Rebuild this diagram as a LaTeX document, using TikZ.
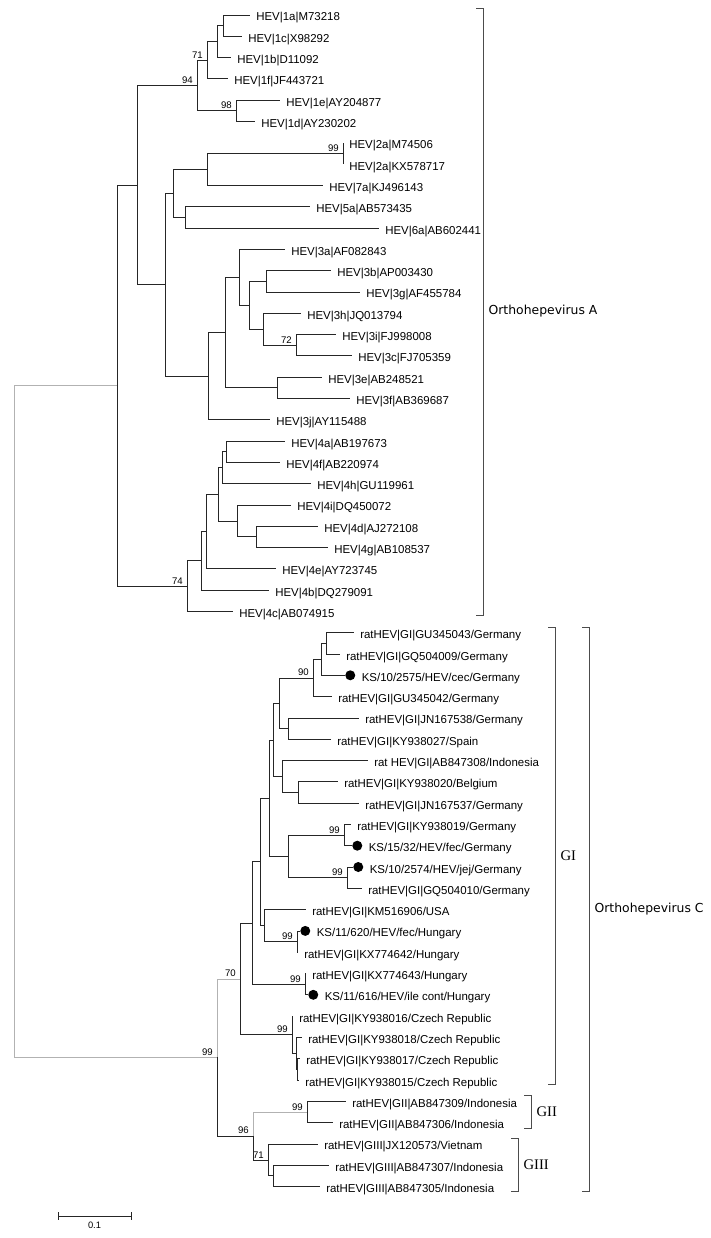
\documentclass[tikz,border=0pt]{standalone}
\usepackage{fontspec}
\setmainfont{Liberation Sans}
\newfontfamily\cladefont{DejaVu Sans}
\newfontfamily\groupfont{Liberation Serif}
\usetikzlibrary{positioning}

\tikzset{
  lab/.style={anchor=base west, inner sep=0pt, xshift=4.5pt, yshift=-4.5pt,
    font=\fontsize{8.6}{10}\selectfont},
  bs/.style={anchor=south east, inner sep=0pt, xshift=-3pt, yshift=1.2pt,
    font=\fontsize{7.2}{8}\selectfont},
  br/.style={black!85, line width=0.6pt},
  brl/.style={gray!60, line width=0.6pt},
  brk/.style={black!70, line width=0.6pt},
  kdot/.style={circle, fill=black, inner sep=0pt, minimum size=7.5pt},
  clade/.style={anchor=west, inner sep=0pt, xshift=4pt,
    font=\cladefont\fontsize{9.3}{11}\selectfont},
  grp/.style={anchor=west, inner sep=0pt, xshift=4pt,
    font=\groupfont\fontsize{11}{13}\selectfont}
}

\begin{document}
\begin{tikzpicture}[x=0.75pt, y=-0.75pt]
    \useasboundingbox (0,0) rectangle (710,1238);

    % Orthohepevirus A leaves
    \path (250,15.0) coordinate (a1a) node [lab] {HEV|1a|M73218};
    \path (242,36.3) coordinate (a1c) node [lab] {HEV|1c|X98292};
    \path (231,57.6) coordinate (a1b) node [lab] {HEV|1b|D11092};
    \path (228,78.9) coordinate (a1f) node [lab] {HEV|1f|JF443721};
    \path (280,100.2) coordinate (a1e) node [lab] {HEV|1e|AY204877};
    \path (255,121.5) coordinate (a1d) node [lab] {HEV|1d|AY230202};
    \path (343,142.8) coordinate (a2a) node [lab] {HEV|2a|M74506};
    \path (343,164.1) coordinate (a2b) node [lab] {HEV|2a|KX578717};
    \path (323,185.4) coordinate (a7a) node [lab] {HEV|7a|KJ496143};
    \path (310,206.7) coordinate (a5a) node [lab] {HEV|5a|AB573435};
    \path (379,228.0) coordinate (a6a) node [lab] {HEV|6a|AB602441};
    \path (285,249.3) coordinate (a3a) node [lab] {HEV|3a|AF082843};
    \path (331,270.6) coordinate (a3b) node [lab] {HEV|3b|AP003430};
    \path (360,291.9) coordinate (a3g) node [lab] {HEV|3g|AF455784};
    \path (301,313.2) coordinate (a3h) node [lab] {HEV|3h|JQ013794};
    \path (336,334.5) coordinate (a3i) node [lab] {HEV|3i|FJ998008};
    \path (352,355.8) coordinate (a3c) node [lab] {HEV|3c|FJ705359};
    \path (322,377.1) coordinate (a3e) node [lab] {HEV|3e|AB248521};
    \path (350,398.4) coordinate (a3f) node [lab] {HEV|3f|AB369687};
    \path (270,419.7) coordinate (a3j) node [lab] {HEV|3j|AY115488};
    \path (285,441.0) coordinate (a4a) node [lab] {HEV|4a|AB197673};
    \path (280,462.3) coordinate (a4f) node [lab] {HEV|4f|AB220974};
    \path (311,483.6) coordinate (a4h) node [lab] {HEV|4h|GU119961};
    \path (291,504.9) coordinate (a4i) node [lab] {HEV|4i|DQ450072};
    \path (318,526.2) coordinate (a4d) node [lab] {HEV|4d|AJ272108};
    \path (328,547.5) coordinate (a4g) node [lab] {HEV|4g|AB108537};
    \path (276,568.8) coordinate (a4e) node [lab] {HEV|4e|AY723745};
    \path (269,590.1) coordinate (a4b) node [lab] {HEV|4b|DQ279091};
    \path (233,611.4) coordinate (a4c) node [lab] {HEV|4c|AB074915};

    % Orthohepevirus C leaves
    \path (354,632.7) coordinate (c43) node [lab] {ratHEV|GI|GU345043/Germany};
    \path (340,654.0) coordinate (c09) node [lab] {ratHEV|GI|GQ504009/Germany};
    \path (345,675.3) coordinate (k2575);
    \path (332,696.6) coordinate (c42) node [lab] {ratHEV|GI|GU345042/Germany};
    \path (359,717.9) coordinate (c38) node [lab] {ratHEV|GI|JN167538/Germany};
    \path (331,739.2) coordinate (c27) node [lab] {ratHEV|GI|KY938027/Spain};
    \path (368,760.5) coordinate (c08) node [lab] {rat HEV|GI|AB847308/Indonesia};
    \path (338,781.8) coordinate (c20) node [lab] {ratHEV|GI|KY938020/Belgium};
    \path (359,803.1) coordinate (c37) node [lab] {ratHEV|GI|JN167537/Germany};
    \path (351,824.4) coordinate (c19) node [lab] {ratHEV|GI|KY938019/Germany};
    \path (352,845.7) coordinate (k1532);
    \path (353,867.0) coordinate (k2574);
    \path (362,888.3) coordinate (c10) node [lab] {ratHEV|GI|GQ504010/Germany};
    \path (306,909.6) coordinate (c06) node [lab] {ratHEV|GI|KM516906/USA};
    \path (300,930.9) coordinate (k620);
    \path (298,952.2) coordinate (h42) node [lab] {ratHEV|GI|KX774642/Hungary};
    \path (306,973.5) coordinate (h43) node [lab] {ratHEV|GI|KX774643/Hungary};
    \path (308,994.8) coordinate (k616);
    \path (293,1016.1) coordinate (z16) node [lab] {ratHEV|GI|KY938016/Czech Republic};
    \path (302,1037.4) coordinate (z18) node [lab] {ratHEV|GI|KY938018/Czech Republic};
    \path (300,1058.7) coordinate (z17) node [lab] {ratHEV|GI|KY938017/Czech Republic};
    \path (299,1080.0) coordinate (z15) node [lab] {ratHEV|GI|KY938015/Czech Republic};
    \path (346,1101.3) coordinate (d09) node [lab] {ratHEV|GII|AB847309/Indonesia};
    \path (333,1122.6) coordinate (d06) node [lab] {ratHEV|GII|AB847306/Indonesia};
    \path (318,1143.9) coordinate (e73) node [lab] {ratHEV|GIII|JX120573/Vietnam};
    \path (329,1165.2) coordinate (e07) node [lab] {ratHEV|GIII|AB847307/Indonesia};
    \path (320,1186.5) coordinate (e05) node [lab] {ratHEV|GIII|AB847305/Indonesia};

    % marked sequences
    \node [kdot, right=0pt of k2575] (dk2575) {};
    \node [lab] at (dk2575.east) {KS/10/2575/HEV/cec/Germany};
    \node [kdot, right=0pt of k1532] (dk1532) {};
    \node [lab] at (dk1532.east) {KS/15/32/HEV/fec/Germany};
    \node [kdot, right=0pt of k2574] (dk2574) {};
    \node [lab] at (dk2574.east) {KS/10/2574/HEV/jej/Germany};
    \node [kdot, right=0pt of k620] (dk620) {};
    \node [lab] at (dk620.east) {KS/11/620/HEV/fec/Hungary};
    \node [kdot, right=0pt of k616] (dk616) {};
    \node [lab] at (dk616.east) {KS/11/616/HEV/ile cont/Hungary};

    % internal nodes, A
    \path (223,25.65) coordinate (n1ac);
    \path (217,41.6) coordinate (n1acb);
    \path (207,60.25) coordinate (n1f) node [bs] {71};
    \path (236,110.85) coordinate (n1ed) node [bs] {98};
    \path (197,85.55) coordinate (n1) node [bs] {94};
    \path (343,153.45) coordinate (n2) node [bs] {99};
    \path (207,169.4) coordinate (n27);
    \path (185,217.35) coordinate (n56);
    \path (173,193.4) coordinate (n2756);
    \path (266,281.25) coordinate (n3bg);
    \path (296,345.15) coordinate (n3ic) node [bs] {72};
    \path (263,329.2) coordinate (n3hc);
    \path (249,305.2) coordinate (n3bh);
    \path (239,277.25) coordinate (n3ab);
    \path (277,387.75) coordinate (n3ef);
    \path (225,332.5) coordinate (n3ae);
    \path (208,376.1) coordinate (n3);
    \path (165,284.75) coordinate (n2to3);
    \path (137,185.15) coordinate (n1to3);
    \path (226,451.65) coordinate (n4af);
    \path (222,467.6) coordinate (n4ah);
    \path (256,536.85) coordinate (n4dg);
    \path (237,520.9) coordinate (n4id);
    \path (218,494.25) coordinate (n4ai);
    \path (206,531.5) coordinate (n4ae);
    \path (201,560.8) coordinate (n4ab);
    \path (187,586.1) coordinate (n4) node [bs] {74};
    \path (117,385.6) coordinate (nA);

    % internal nodes, C
    \path (326,643.35) coordinate (g1a);
    \path (321,659.3) coordinate (g1b);
    \path (313,677.95) coordinate (g1c) node [bs] {90};
    \path (288,728.55) coordinate (g2);
    \path (279,703.25) coordinate (g12);
    \path (298,792.45) coordinate (g3a);
    \path (282,776.5) coordinate (g3);
    \path (273,739.9) coordinate (g123);
    \path (344,835.05) coordinate (g4a) node [bs] {99};
    \path (347,877.65) coordinate (g4b) node [bs] {99};
    \path (288,856.35) coordinate (g4);
    \path (269,798.1) coordinate (g1234);
    \path (297,941.55) coordinate (g5a) node [bs] {99};
    \path (264,925.6) coordinate (g5);
    \path (260,861.85) coordinate (g15);
    \path (305,984.15) coordinate (g6) node [bs] {99};
    \path (252,923) coordinate (g16);
    \path (297.5,1069.35) coordinate (cz3);
    \path (296,1053.4) coordinate (cz2);
    \path (292,1034.75) coordinate (cz) node [bs] {99};
    \path (240,978.9) coordinate (gI) node [bs] {70};
    \path (307,1111.95) coordinate (gII) node [bs] {99};
    \path (273,1175.85) coordinate (g3b);
    \path (268,1159.9) coordinate (gIII) node [bs] {71};
    \path (253,1135.9) coordinate (g23) node [bs] {96};
    \path (217,1057.4) coordinate (nC) node [bs] {99};
    \path (14,721.5) coordinate (root);

    % branches, A
    \draw [br] (n1ac) |- (a1a) (n1ac) |- (a1c);
    \draw [br] (n1acb) |- (n1ac) (n1acb) |- (a1b);
    \draw [br] (n1f) |- (n1acb) (n1f) |- (a1f);
    \draw [br] (n1ed) |- (a1e) (n1ed) |- (a1d);
    \draw [br] (n1) |- (n1f) (n1) |- (n1ed);
    \draw [br] (n2) |- (a2a) (n2) |- (a2b);
    \draw [br] (n27) |- (n2) (n27) |- (a7a);
    \draw [br] (n56) |- (a5a) (n56) |- (a6a);
    \draw [br] (n2756) |- (n27) (n2756) |- (n56);
    \draw [br] (n3bg) |- (a3b) (n3bg) |- (a3g);
    \draw [br] (n3ic) |- (a3i) (n3ic) |- (a3c);
    \draw [br] (n3hc) |- (a3h) (n3hc) |- (n3ic);
    \draw [br] (n3bh) |- (n3bg) (n3bh) |- (n3hc);
    \draw [br] (n3ab) |- (a3a) (n3ab) |- (n3bh);
    \draw [br] (n3ef) |- (a3e) (n3ef) |- (a3f);
    \draw [br] (n3ae) |- (n3ab) (n3ae) |- (n3ef);
    \draw [br] (n3) |- (n3ae) (n3) |- (a3j);
    \draw [br] (n2to3) |- (n2756) (n2to3) |- (n3);
    \draw [br] (n1to3) |- (n1) (n1to3) |- (n2to3);
    \draw [br] (n4af) |- (a4a) (n4af) |- (a4f);
    \draw [br] (n4ah) |- (n4af) (n4ah) |- (a4h);
    \draw [br] (n4dg) |- (a4d) (n4dg) |- (a4g);
    \draw [br] (n4id) |- (a4i) (n4id) |- (n4dg);
    \draw [br] (n4ai) |- (n4ah) (n4ai) |- (n4id);
    \draw [br] (n4ae) |- (n4ai) (n4ae) |- (a4e);
    \draw [br] (n4ab) |- (n4ae) (n4ab) |- (a4b);
    \draw [br] (n4) |- (n4ab) (n4) |- (a4c);
    \draw [br] (nA) |- (n1to3) (nA) |- (n4);

    % branches, C
    \draw [br] (g1a) |- (c43) (g1a) |- (c09);
    \draw [br] (g1b) |- (g1a) (g1b) |- (k2575);
    \draw [br] (g1c) |- (g1b) (g1c) |- (c42);
    \draw [br] (g2) |- (c38) (g2) |- (c27);
    \draw [br] (g12) |- (g1c) (g12) |- (g2);
    \draw [br] (g3a) |- (c20) (g3a) |- (c37);
    \draw [br] (g3) |- (c08) (g3) |- (g3a);
    \draw [br] (g123) |- (g12) (g123) |- (g3);
    \draw [br] (g4a) |- (c19) (g4a) |- (k1532);
    \draw [br] (g4b) |- (k2574) (g4b) |- (c10);
    \draw [br] (g4) |- (g4a) (g4) |- (g4b);
    \draw [br] (g1234) |- (g123) (g1234) |- (g4);
    \draw [br] (g5a) |- (k620) (g5a) |- (h42);
    \draw [br] (g5) |- (c06) (g5) |- (g5a);
    \draw [br] (g15) |- (g1234) (g15) |- (g5);
    \draw [br] (g6) |- (h43) (g6) |- (k616);
    \draw [br] (g16) |- (g15) (g16) |- (g6);
    \draw [br] (cz3) |- (z17) (cz3) |- (z15);
    \draw [br] (cz2) |- (z18) (cz2) |- (cz3);
    \draw [br] (cz) |- (z16) (cz) |- (cz2);
    \draw [br] (gI) |- (g16) (gI) |- (cz);
    \draw [br] (gII) |- (d09) (gII) |- (d06);
    \draw [br] (g3b) |- (e07) (g3b) |- (e05);
    \draw [br] (gIII) |- (e73) (gIII) |- (g3b);
    \draw [brl] (g23) |- (gII);
    \draw [br] (g23) |- (gIII);
    \draw [brl] (nC) |- (gI);
    \draw [br] (nC) |- (g23);
    \draw [brl] (root) |- (nA) (root) |- (nC);

    % clade brackets
    \draw [brk] (476,8) -- (483,8) -- (483,615) -- (476,615);
    \path (483,311.5) node [clade] {Orthohepevirus A};
    \draw [brk] (548,627) -- (555,627) -- (555,1084) -- (548,1084);
    \path (555,855.5) node [grp] {GI};
    \draw [brk] (524,1095) -- (531,1095) -- (531,1128) -- (524,1128);
    \path (531,1111.5) node [grp] {GII};
    \draw [brk] (511,1138) -- (518,1138) -- (518,1191) -- (511,1191);
    \path (518,1164.5) node [grp] {GIII};
    \draw [brk] (582,627) -- (589,627) -- (589,1191) -- (582,1191);
    \path (589,909) node [clade] {Orthohepevirus C};

    % scale bar
    \path (58,1216) coordinate (sbl) (131,1216) coordinate (sbr);
    \draw [br] (sbl) -- (sbr);
    \draw [br] ([yshift=3pt]sbl) -- ([yshift=-3pt]sbl);
    \draw [br] ([yshift=3pt]sbr) -- ([yshift=-3pt]sbr);
    \path (94.5,1222) node [anchor=north, inner sep=0pt, font=\fontsize{7}{8}\selectfont] {0.1};
\end{tikzpicture}
\end{document}
